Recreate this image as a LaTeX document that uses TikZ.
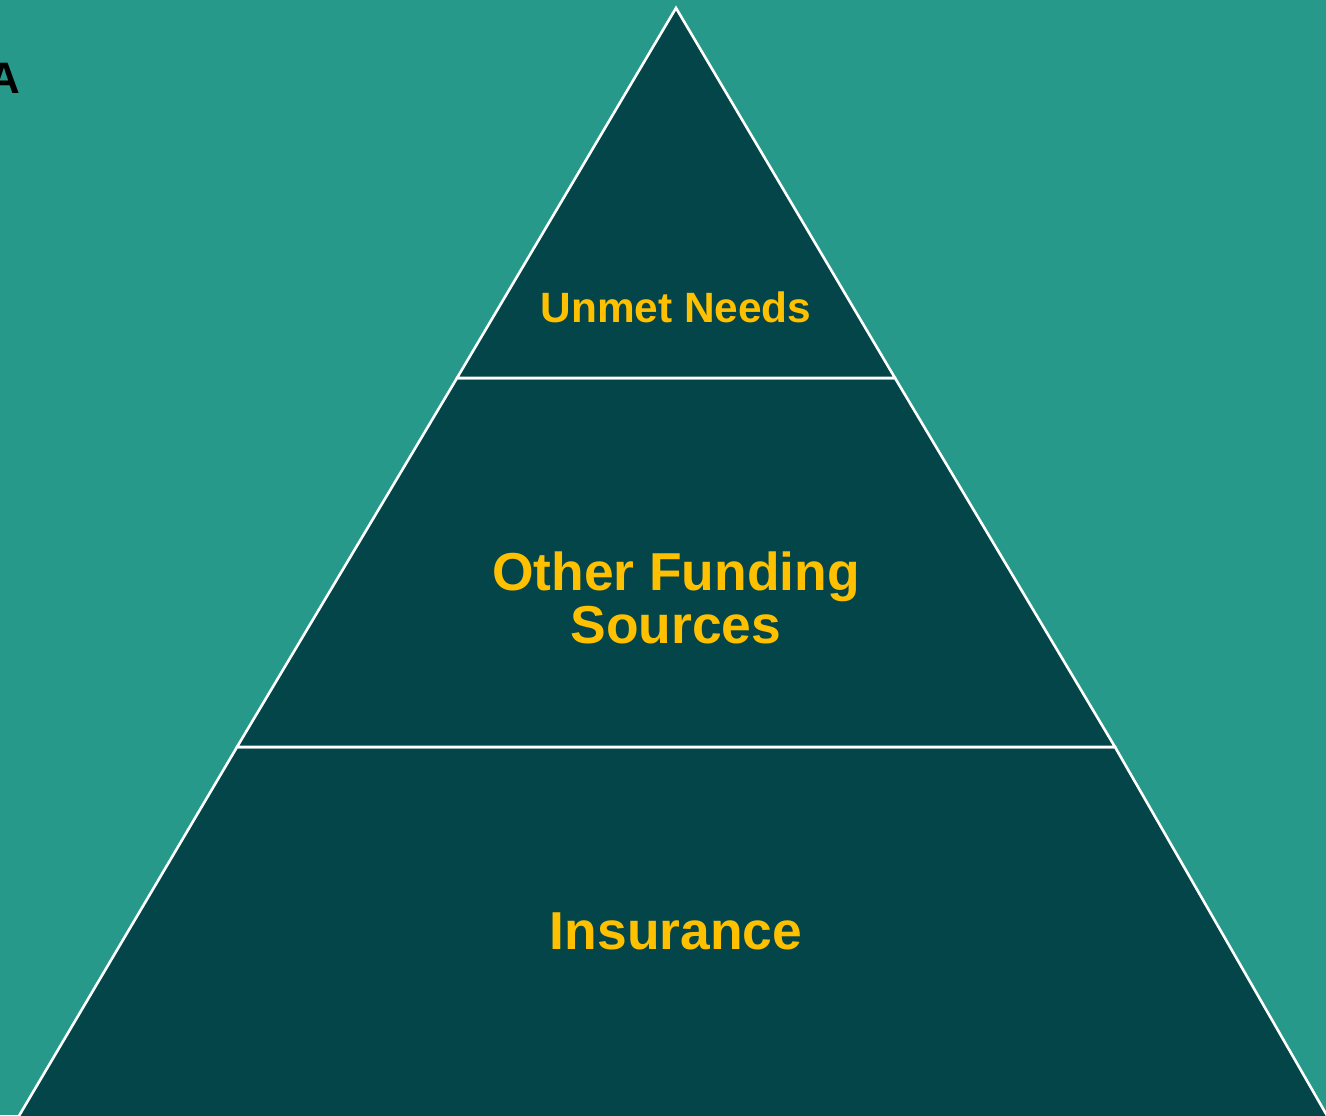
\documentclass[tikz,border=0pt]{standalone}
\usepackage{fontspec}
\setmainfont{Liberation Sans}
\usetikzlibrary{positioning}

\definecolor{seateal}{RGB}{38,153,138}
\definecolor{deepteal}{RGB}{3,69,73}
\definecolor{goldtext}{RGB}{255,192,0}

\tikzset{
  tier/.style={fill=deepteal, draw=white, line width=1.3pt, line join=miter},
  tierlabel/.style={text=goldtext, font=\bfseries, align=center, inner sep=0pt},
}

\begin{document}
\begin{tikzpicture}[x=0.5pt, y=-0.5pt]
  \useasboundingbox (0,0) rectangle (1326,1115);
  \fill[seateal] (0,0) rectangle (1326,1115);

  %% apex and the two cut lines of the pyramid, base lies just below the page
  \coordinate (apex) at (676,8);
  \coordinate (cutAL) at (457,378);
  \coordinate (cutAR) at (895,378);
  \coordinate (cutBL) at (237,747);
  \coordinate (cutBR) at (1115,747);
  \coordinate (baseL) at (13,1126);
  \coordinate (baseR) at (1333,1126);

  \begin{scope}
    \clip (0,0) rectangle (1326,1115);
    \draw[tier] (cutBL) -- (cutBR) -- (baseR) -- (baseL) -- cycle;
    \draw[tier] (cutAL) -- (cutAR) -- (cutBR) -- (cutBL) -- cycle;
    \draw[tier] (apex) -- (cutAR) -- (cutAL) -- cycle;
  \end{scope}

  %% labels
  \node[tierlabel, font=\bfseries\fontsize{21.2}{22}\selectfont] (unmet) at (676,307) {Unmet Needs};
  \node[tierlabel, font=\bfseries\fontsize{26.7}{26.5}\selectfont] (other) at (676,598) {Other Funding\\Sources};
  \node[tierlabel, font=\bfseries\fontsize{26.7}{28}\selectfont] (insur) at (676,931) {Insurance};
  \node[font=\bfseries\fontsize{22}{24}\selectfont, inner sep=0pt, anchor=east] (tag) at (21,78) {A};
\end{tikzpicture}
\end{document}
